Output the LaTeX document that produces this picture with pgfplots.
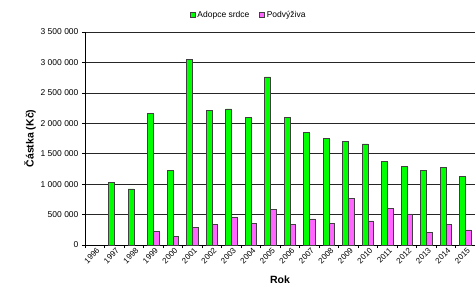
\documentclass[border=0pt]{standalone}
\usepackage{pgfplots}
\pgfplotsset{compat=1.18}
\usepackage{fontspec}
\setmainfont{Liberation Sans}
\usetikzlibrary{calc}
\definecolor{cgreen}{RGB}{0,255,0}
\definecolor{cpink}{RGB}{255,102,255}
\begin{document}
\begin{tikzpicture}
\begin{axis}[
  scale only axis,
  width=390pt, height=213pt,
  xmin=-0.5, xmax=19.5, ymin=0, ymax=3500000,
  axis x line*=bottom, axis y line*=left,
  axis line style={black, line width=0.8pt},
  ytick={0,500000,1000000,1500000,2000000,2500000,3000000,3500000},
  yticklabels={0,500 000,1 000 000,1 500 000,2 000 000,2 500 000,3 000 000,3 500 000},
  scaled y ticks=false,
  ymajorgrids, grid style={black!85, line width=0.7pt},
  xtick={0,...,19},
  xticklabels={1996,1997,1998,1999,2000,2001,2002,2003,2004,2005,2006,2007,2008,2009,2010,2011,2012,2013,2014,2015},
  major x tick style={draw=none},
  minor xtick={-0.5,0.5,...,19.5},
  minor x tick style={black, line width=0.6pt},
  y tick style={black, line width=0.6pt},
  tick align=outside,
  major tick length=3pt, minor tick length=3pt,
  tick label style={font=\fontsize{8.5}{10}\selectfont},
  x tick label style={rotate=45, anchor=north east, inner sep=0.5pt, xshift=2pt, font=\fontsize{8}{9}\selectfont},
  ylabel={\textbf{Částka (Kč)}},
  xlabel={\textbf{Rok}},
  label style={font=\fontsize{10.5}{12}\selectfont},
  ylabel style={yshift=-2pt},
  xlabel style={yshift=-7pt},
  legend style={at={(0.42,1)}, anchor=south, yshift=9pt, draw=none, fill=none,
    font=\fontsize{8.5}{10}\selectfont, legend columns=2,
    /tikz/every even column/.append style={column sep=8pt}},
  legend image code/.code={\draw[#1] (0pt,-2.5pt) rectangle (5pt,2.5pt);},
]
\addplot[ybar, bar width=5.6pt, bar shift=-2.8pt, fill=cgreen, draw=black!75, line width=0.4pt]
coordinates {(1,1025000) (2,921000) (3,2166000) (4,1228000) (5,3054000) (6,2209000) (7,2237000) (8,2100000) (9,2763000) (10,2100000) (11,1853000) (12,1755000) (13,1705000) (14,1661000) (15,1376000) (16,1288000) (17,1228000) (18,1277000) (19,1130000)};
\addlegendentry{Adopce srdce}
\addplot[ybar, bar width=5.6pt, bar shift=2.8pt, fill=cpink, draw=black!75, line width=0.4pt]
coordinates {(3,230000) (4,137000) (5,291000) (6,345000) (7,455000) (8,357000) (9,587000) (10,345000) (11,428000) (12,357000) (13,768000) (14,395000) (15,603000) (16,510000) (17,209000) (18,345000) (19,247000)};
\addlegendentry{Podvýživa}
\end{axis}
\pgfresetboundingbox
\path ($(current axis.south west)+(-85pt,-51pt)$) rectangle ($(current axis.north east)+(0pt,32pt)$);
\end{tikzpicture}
\end{document}
